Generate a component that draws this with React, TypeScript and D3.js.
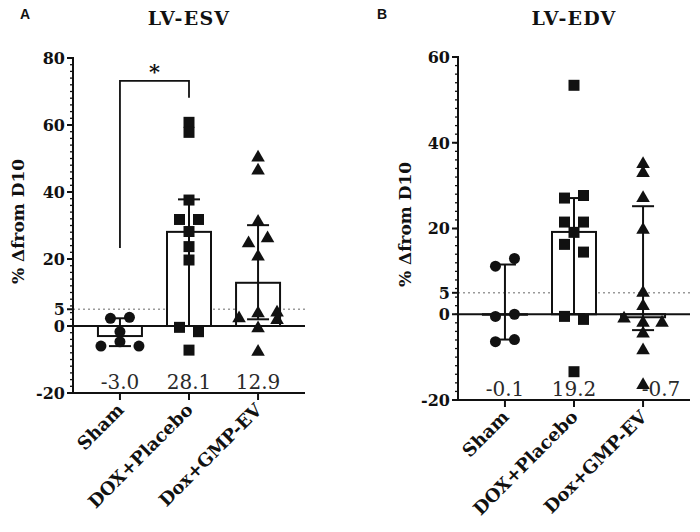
import React from 'react';
import * as d3 from 'd3';

// ---------- data ----------
const categories = ['Sham', 'DOX+Placebo', 'Dox+GMP-EV'];

// Panel A: LV-ESV
const esvMeans = [-3.0, 28.1, 12.9];
const esvMeanLabels = ['-3.0', '28.1', '12.9'];
const esvSham = [2.3, 2.6, -1.7, -4.7, -6.0, -6.0];
const esvShamJitter = [-1, 1, 0, 0, -2, 2];
const esvDox = [60.8, 57.8, 37.6, 31.8, 31.8, 28.2, 23.7, 19.7, -0.4, -1.7, -7.2];
const esvDoxJitter = [0, 0, 0, -1, 1, 0, 0, 0, -1, 1, 0];
const esvGmp = [50.3, 46.4, 31.1, 26.2, 24.7, 20.7, 4.0, 3.8, 2.3, 1.8, -0.7, -7.7];
const esvGmpJitter = [0, 0, 0, 1, -1, 0, 2, 0, -2, 2, 0, 0];
const esvErrTop = [2.3, 37.8, 30.1];
const esvErrBottom = [-6.0, 0, 2.0];
const esvTicks = [80, 60, 40, 20, 5, 0, -20];
const esvDomain = [-20, 80];
// significance bracket: [left leg bottom, top, right leg bottom], star
const esvBracket = [23.3, 73.2, 68.1];
const esvStarValue = 77.3;

// Panel B: LV-EDV
const edvMeans = [-0.1, 19.2, -0.7];
const edvMeanLabels = ['-0.1', '19.2', '-0.7'];
const edvSham = [13.0, 11.2, 0, -0.5, -5.9, -6.4];
const edvShamJitter = [1, -1, 1, -1, 1, -1];
const edvDox = [53.4, 27.7, 27.1, 21.5, 21.5, 19.1, 16.3, 14.5, -0.5, -1.2, -13.4];
const edvDoxJitter = [0, 1, -1, -1, 1, 0, -1, 1, -1, 1, 0];
const edvGmp = [35.0, 32.9, 27.1, 19.7, 5.0, 1.9, -1.0, -2.0, -2.0, -4.5, -8.4, -16.5];
const edvGmpJitter = [0, 0, 0, 0, 0, 0, -2, 0, 2, 0, 0, 0];
const edvErrTop = [11.6, 27.1, 25.2];
const edvErrBottom = [-5.9, 0, -3.7];
const edvTicks = [60, 40, 20, 5, 0, -20];
const edvDomain = [-20, 60];

const SERIF = '"DejaVu Serif", serif';
const INK = '#111';

type PanelProps = {
  letter: string;
  title: string;
  x0: number;
  x1: number;
  yTop: number;
  yBottom: number;
  domain: number[];
  ticks: number[];
  means: number[];
  meanLabels: string[];
  groups: number[][];
  jitters: number[][];
  errTop: number[];
  errBottom: number[];
  labelX: number;
  letterX: number;
  meanLabelShift?: number[];
  bracket?: number[];
  starValue?: number;
};

const symbolTypes = [d3.symbolCircle, d3.symbolSquare, d3.symbolTriangle];
const symbolSizes = [95, 121, 80];

function Panel(p: PanelProps) {
  const y = d3.scaleLinear().domain(p.domain).range([p.yBottom, p.yTop]);
  const x = d3.scalePoint<string>().domain(categories).range([p.x0, p.x1]).padding(0.68);
  const barW = 44;
  const slot = 9.5;
  const capW = 22;
  const minor = d3.range(p.domain[0], p.domain[1] + 0.001, 2);
  const y0 = y(p.domain[0]);
  const titleX = (p.x0 + p.x1) / 2;
  const labelCenterY = (y(p.domain[1]) + y0) / 2 - 4;

  return (
    <g>
      <text x={p.letterX} y={19} fontFamily='"Liberation Sans", Arial, sans-serif' fontWeight="bold" fontSize={14} fill={INK}>{p.letter}</text>
      <text x={titleX} y={25} textAnchor="middle" fontFamily={SERIF} fontWeight="bold" fontSize={19} letterSpacing={1.2} fill={INK}>{p.title}</text>
      <text transform={`translate(${p.labelX},${labelCenterY}) rotate(-90)`} textAnchor="middle" fontFamily={SERIF} fontWeight="bold" fontSize={17} fill={INK}>% Δfrom D10</text>

      {/* dotted 5% line */}
      <line x1={p.x0} x2={p.x1} y1={y(5)} y2={y(5)} stroke="#9a9a9a" strokeWidth={1.6} strokeDasharray="2,3" />

      {/* bars */}
      {p.means.map((m, i) => {
        const cx = x(categories[i])!;
        const top = y(Math.max(0, m));
        const bot = y(Math.min(0, m));
        return <rect key={'b' + i} x={cx - barW / 2} y={top} width={barW} height={Math.max(0.5, bot - top)} fill="#fff" stroke={INK} strokeWidth={2} />;
      })}

      {/* zero line */}
      <line x1={p.x0} x2={p.x1} y1={y(0)} y2={y(0)} stroke={INK} strokeWidth={2.2} />

      {/* mean labels */}
      {p.meanLabels.map((s, i) => (
        <text key={'m' + i} x={x(categories[i])! + (p.meanLabelShift ? p.meanLabelShift[i] : 0)} y={y0 - 4} textAnchor="middle" fontFamily={SERIF} fontSize={20} fill="#2a2a2a">{s}</text>
      ))}

      {/* error bars */}
      {p.errTop.map((t, i) => {
        const cx = x(categories[i])!;
        const b = p.errBottom[i];
        return (
          <g key={'e' + i} stroke={INK} strokeWidth={2}>
            <line x1={cx} x2={cx} y1={y(t)} y2={y(b)} />
            <line x1={cx - capW / 2} x2={cx + capW / 2} y1={y(t)} y2={y(t)} />
            <line x1={cx - capW / 2} x2={cx + capW / 2} y1={y(b)} y2={y(b)} />
          </g>
        );
      })}

      {/* points */}
      {p.groups.map((vals, gi) => {
        const cx = x(categories[gi])!;
        const path = d3.symbol().type(symbolTypes[gi]).size(symbolSizes[gi])()!;
        return vals.map((v, k) => (
          <path key={`p${gi}-${k}`} d={path} transform={`translate(${cx + p.jitters[gi][k] * slot},${y(v)})`} fill={INK} />
        ));
      })}

      {/* bracket */}
      {p.bracket && (
        <g>
          <path d={`M${x(categories[0])},${y(p.bracket[0])}V${y(p.bracket[1])}H${x(categories[1])}V${y(p.bracket[2])}`} fill="none" stroke={INK} strokeWidth={1.8} />
          <text x={(x(categories[0])! + x(categories[1])!) / 2} y={y(p.starValue!) + 12} textAnchor="middle" fontFamily={SERIF} fontWeight="bold" fontSize={21} fill={INK}>*</text>
        </g>
      )}

      {/* y axis */}
      <line x1={p.x0} x2={p.x0} y1={y(p.domain[1]) - 1} y2={y0 + 1} stroke={INK} strokeWidth={2} />
      {minor.map((v) => (
        <line key={'mt' + v} x1={p.x0 - 3} x2={p.x0} y1={y(v)} y2={y(v)} stroke={INK} strokeWidth={1.3} />
      ))}
      {p.ticks.map((t) => (
        <g key={'t' + t}>
          <line x1={p.x0 - 6} x2={p.x0} y1={y(t)} y2={y(t)} stroke={INK} strokeWidth={2} />
          <text x={p.x0 - 8} y={y(t)} dy="0.36em" textAnchor="end" fontFamily={SERIF} fontWeight="bold" fontSize={16} fill={INK}>{t}</text>
        </g>
      ))}

      {/* x axis */}
      <line x1={p.x0 - 1} x2={p.x1} y1={y0} y2={y0} stroke={INK} strokeWidth={2} />
      {categories.map((c) => {
        const cx = x(c)!;
        return (
          <g key={'x' + c}>
            <line x1={cx} x2={cx} y1={y0} y2={y0 + 7} stroke={INK} strokeWidth={2} />
            <text transform={`translate(${cx + 5},${y0 + 18}) rotate(-45)`} textAnchor="end" fontFamily={SERIF} fontWeight="bold" fontSize={18} fill={INK}>{c}</text>
          </g>
        );
      })}
    </g>
  );
}

export default function App() {
  return (
    <svg width={700} height={532} style={{ position: 'absolute', left: 0, top: 0, background: '#fff' }}>
      <rect width={700} height={532} fill="#fff" />
      <Panel
        letter="A" title="LV-ESV" x0={73} x1={305} yTop={58} yBottom={393}
        domain={esvDomain} ticks={esvTicks} means={esvMeans} meanLabels={esvMeanLabels}
        groups={[esvSham, esvDox, esvGmp]} jitters={[esvShamJitter, esvDoxJitter, esvGmpJitter]}
        errTop={esvErrTop} errBottom={esvErrBottom} labelX={24} letterX={20}
        bracket={esvBracket} starValue={esvStarValue}
      />
      <Panel
        letter="B" title="LV-EDV" x0={458} x1={690} yTop={57} yBottom={400}
        domain={edvDomain} ticks={edvTicks} means={edvMeans} meanLabels={edvMeanLabels}
        groups={[edvSham, edvDox, edvGmp]} jitters={[edvShamJitter, edvDoxJitter, edvGmpJitter]}
        errTop={edvErrTop} errBottom={edvErrBottom} labelX={411} letterX={377}
        meanLabelShift={[0, 0, 18]}
      />
    </svg>
  );
}
